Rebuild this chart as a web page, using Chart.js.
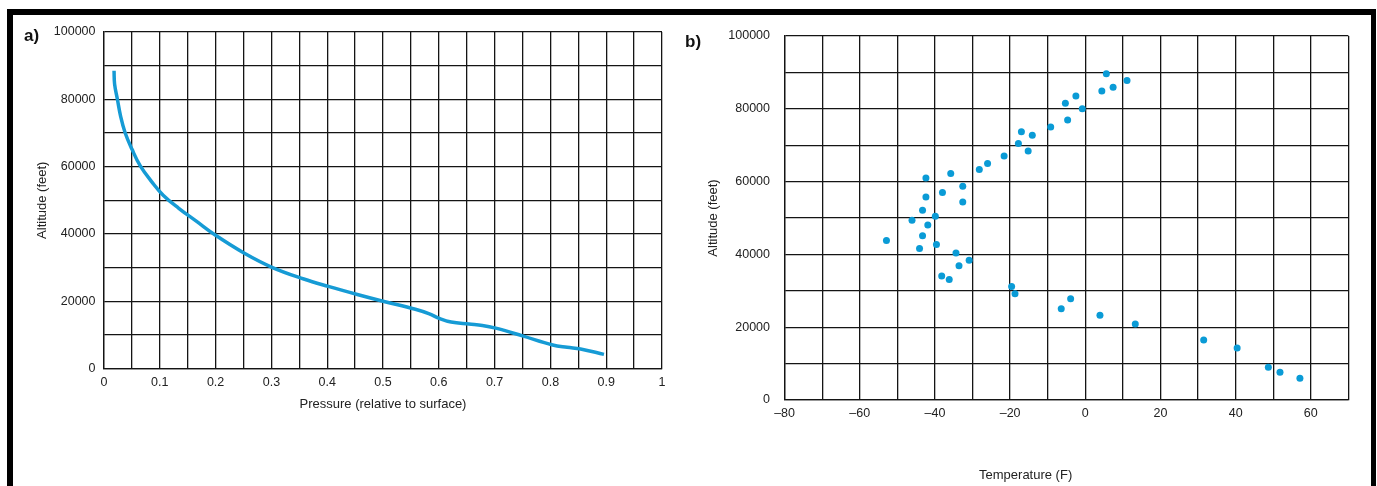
<!DOCTYPE html>
<html>
<head>
<meta charset="utf-8">
<script src="https://cdn.jsdelivr.net/npm/chart.js@4/dist/chart.umd.min.js"></script>
<style>
  body { margin: 0; background: #fff; overflow: hidden; width: 1377px; height: 486px; position: relative; }
  #frame { position: absolute; left: 7px; top: 9px; width: 1369px; height: 520px; box-sizing: border-box;
           border-top: 6px solid #000; border-left: 6px solid #000; border-right: 5px solid #000; }
  .panel { position: absolute; font: bold 17px "Liberation Sans", Arial, sans-serif; color: #111; line-height: 17px; }
  #chartA { position: absolute; left: 0; top: 0; }
  #chartB { position: absolute; left: 680px; top: 0; }
</style>
</head>
<body>
<div id="frame"></div>
<canvas id="chartA" width="680" height="486"></canvas>
<canvas id="chartB" width="697" height="486"></canvas>
<div class="panel" style="left:24px; top:27px;">a)</div>
<div class="panel" style="left:685px; top:33px;">b)</div>
<script>
// panel a: pressure vs altitude curve
const pressure = [0.018, 0.019, 0.024, 0.03, 0.038, 0.05, 0.065, 0.086, 0.106, 0.134, 0.166, 0.198, 0.25, 0.302,
  0.358, 0.402, 0.454, 0.5, 0.558, 0.582, 0.602, 0.622, 0.654, 0.678, 0.702, 0.75, 0.804, 0.83, 0.854, 0.896];
const altitudeA = [88500, 84500, 80000, 74800, 70000, 65200, 60200, 55400, 51500, 47600, 43700, 39800, 34400, 30000,
  26600, 24400, 22000, 20000, 17600, 16300, 14800, 13800, 13200, 12800, 12000, 9700, 7000, 6300, 5800, 4200];

// panel b: temperature vs altitude points
const temperature = [-42.4, -35.8, -32.6, -38, -42.4, -28.2, -26, -21.6, -17.8, -17, -15.2, -14.1, -9.2, -4.7,
  -5.3, -2.5, -0.8, 4.4, 5.6, 7.4, 11.1, -32.6, -43.3, -39.9, -46.1, -41.9, -43.3, -52.9, -39.6, -44.1,
  -34.4, -30.9, -33.6, -38.2, -36.2, -19.6, -18.7, -3.9, -6.4, 3.9, 13.3, 31.5, 40.4, 48.7, 51.8, 57.1];
const altitudeB = [61000, 62200, 58700, 57000, 55800, 63300, 65000, 67000, 70500, 73700, 68400, 72700, 75000, 76900,
  81500, 83500, 80000, 84900, 89600, 85900, 87800, 54400, 52100, 50500, 49400, 48100, 45100, 43800, 42700, 41600,
  40400, 38400, 36900, 34100, 33100, 31200, 29200, 27800, 25100, 23300, 20900, 16500, 14300, 9000, 7600, 6000];

const xTitleA = "Pressure (relative to surface)";
const xTitleB = "Temperature (F)";
const yTitle = "Altitude (feet)";

Chart.defaults.font.family = "'Liberation Sans', Arial, sans-serif";
Chart.defaults.font.size = 12.5;
Chart.defaults.color = "#222";

const gridStyle = { color: "#141414", lineWidth: 1.3, drawTicks: false };
const titleFont = { size: 13 };

function toPoints(xs, ys) {
  return xs.map((x, i) => ({ x: x, y: ys[i] }));
}

function altitudeLabel(value) {
  return value % 20000 === 0 ? String(value) : "";
}

// b's x title sits left of center in the original, so it is drawn here
const tempTitle = {
  id: "tempTitle",
  afterDraw(chart) {
    const ctx = chart.ctx;
    const area = chart.chartArea;
    ctx.save();
    ctx.font = "13px 'Liberation Sans', Arial, sans-serif";
    ctx.fillStyle = "#222";
    ctx.textAlign = "center";
    ctx.textBaseline = "middle";
    ctx.fillText(xTitleB, area.left + (area.right - area.left) * 0.4275, 475);
    ctx.restore();
  }
};

new Chart(document.getElementById("chartA"), {
  type: "scatter",
  data: {
    datasets: [{
      data: toPoints(pressure, altitudeA),
      showLine: true,
      borderColor: "#169bd5",
      borderWidth: 3.5,
      pointRadius: 0,
      tension: 0.4
    }]
  },
  options: {
    responsive: false,
    animation: false,
    layout: { padding: { left: 20, top: 32, right: 18, bottom: 0 } },
    plugins: { legend: { display: false }, tooltip: { enabled: false } },
    scales: {
      x: {
        type: "linear", min: 0, max: 1,
        grid: gridStyle, border: { color: "#141414", width: 1.3 },
        ticks: {
          stepSize: 0.05, autoSkip: false, maxRotation: 0, padding: 7,
          callback: v => {
            const h = Math.round(v * 100);
            return h % 10 === 0 ? String(h / 100) : "";
          }
        },
        title: { display: true, text: xTitleA, font: titleFont, padding: { top: 0, bottom: 74 } },
        afterFit: s => { s.height = 117.5; }
      },
      y: {
        type: "linear", min: 0, max: 100000,
        grid: gridStyle, border: { color: "#141414", width: 1.3 },
        ticks: { stepSize: 10000, autoSkip: false, padding: 8.5, callback: altitudeLabel },
        title: { display: true, text: yTitle, font: titleFont, padding: { top: 14.7, bottom: 0 } },
        afterFit: s => { s.width = 84; }
      }
    }
  }
});

new Chart(document.getElementById("chartB"), {
  type: "scatter",
  data: {
    datasets: [{
      data: toPoints(temperature, altitudeB),
      backgroundColor: "#0a9bd6",
      borderColor: "#0a9bd6",
      pointRadius: 3.5,
      borderWidth: 0
    }]
  },
  options: {
    responsive: false,
    animation: false,
    layout: { padding: { left: 10, top: 36, right: 28.6, bottom: 0 } },
    plugins: { legend: { display: false }, tooltip: { enabled: false } },
    scales: {
      x: {
        type: "linear", min: -80, max: 70,
        grid: gridStyle, border: { color: "#141414", width: 1.3 },
        ticks: {
          stepSize: 10, autoSkip: false, maxRotation: 0, padding: 6.5,
          callback: v => (v % 20 === 0 ? (v < 0 ? "\u2013" + Math.abs(v) : String(v)) : "")
        },
        afterFit: s => { s.height = 86; }
      },
      y: {
        type: "linear", min: 0, max: 100000,
        grid: gridStyle, border: { color: "#141414", width: 1.3 },
        ticks: { stepSize: 10000, autoSkip: false, padding: 14.6, callback: altitudeLabel },
        title: { display: true, text: yTitle, font: titleFont, padding: { top: 15.2, bottom: 0 } },
        afterFit: s => { s.width = 94.6; }
      }
    }
  },
  plugins: [tempTitle]
});
</script>
</body>
</html>
